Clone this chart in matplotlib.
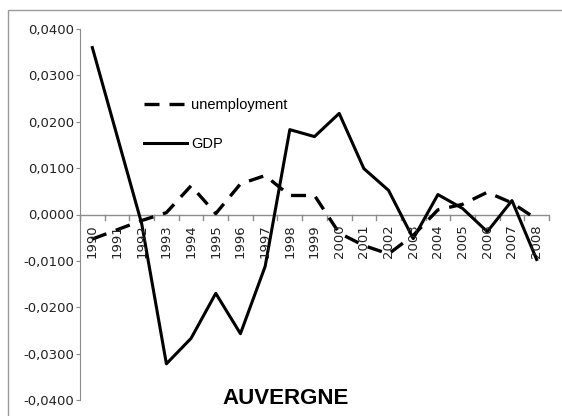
import matplotlib
matplotlib.use('Agg')
import matplotlib.pyplot as plt
from matplotlib.patches import Rectangle
from matplotlib.ticker import FuncFormatter

# Data
years = [str(y) for y in range(1990, 2009)]
unemployment = [-0.0053, -0.0033, -0.0013, 0.0004, 0.0062, 0.0002, 0.0066, 0.0084,
                0.0041, 0.0041, -0.0040, -0.0067, -0.0085, -0.0045, 0.0010, 0.0022,
                0.0048, 0.0025, -0.0010]
gdp = [0.0360, 0.0170, -0.0020, -0.0322, -0.0267, -0.0170, -0.0257, -0.0112,
       0.0183, 0.0168, 0.0218, 0.0099, 0.0052, -0.0052, 0.0043, 0.0013,
       -0.0037, 0.0030, -0.0097]
yticks = [-0.04, -0.03, -0.02, -0.01, 0.0, 0.01, 0.02, 0.03, 0.04]

fig = plt.figure(figsize=(5.62, 4.16), dpi=100)
ax = fig.add_axes([80 / 562, 1 - 400 / 416, 469 / 562, 371 / 416])

x = list(range(len(years)))
ax.plot(x, unemployment, color='black', lw=2.4, dashes=(4.5, 3), label='unemployment')
ax.plot(x, gdp, color='black', lw=2.2, label='GDP')

ax.set_xlim(-0.5, len(years) - 0.5)
ax.set_ylim(-0.04, 0.04)

# axes styling (Excel-like)
for s in ['top', 'right', 'bottom']:
    ax.spines[s].set_visible(False)
ax.spines['left'].set_color('#8c8c8c')
ax.axhline(0, color='#8c8c8c', lw=1, zorder=0)

ax.set_yticks(yticks)
ax.yaxis.set_major_formatter(FuncFormatter(lambda v, p: f"{v:.4f}".replace('.', ',').replace('-0,0000', '0,0000')))
ax.tick_params(axis='y', length=3, color='#8c8c8c', labelsize=9.5, pad=1.5, labelcolor='#222222')

ax.set_xticks([])
# category boundary ticks on the zero line
for b in range(len(years) + 1):
    ax.plot([b - 0.5, b - 0.5], [0, -0.0012], color='#8c8c8c', lw=1, clip_on=False, zorder=0)
for i, yr in enumerate(years):
    ax.text(i, -0.0022, yr, rotation=90, ha='center', va='top', fontsize=9.5, color='#222222')

ax.legend(loc='upper left', bbox_to_anchor=(0.125, 0.83), frameon=False,
          handlelength=2.9, handletextpad=0.3, labelspacing=1.75, borderaxespad=0,
          prop={'family': ['Liberation Sans', 'DejaVu Sans'], 'size': 10.5})

fig.text(286 / 562, 1 - 398 / 416, 'AUVERGNE', ha='center', va='center', fontsize=16,
         fontweight='bold', family=['Liberation Sans', 'DejaVu Sans'])

fig.patches.append(Rectangle((8 / 562, -0.01), 1.0, 1 - 10 / 416 + 0.01, transform=fig.transFigure,
                             fill=False, edgecolor='#9a9a9a', lw=1))

fig.savefig('out.png', dpi=100)
